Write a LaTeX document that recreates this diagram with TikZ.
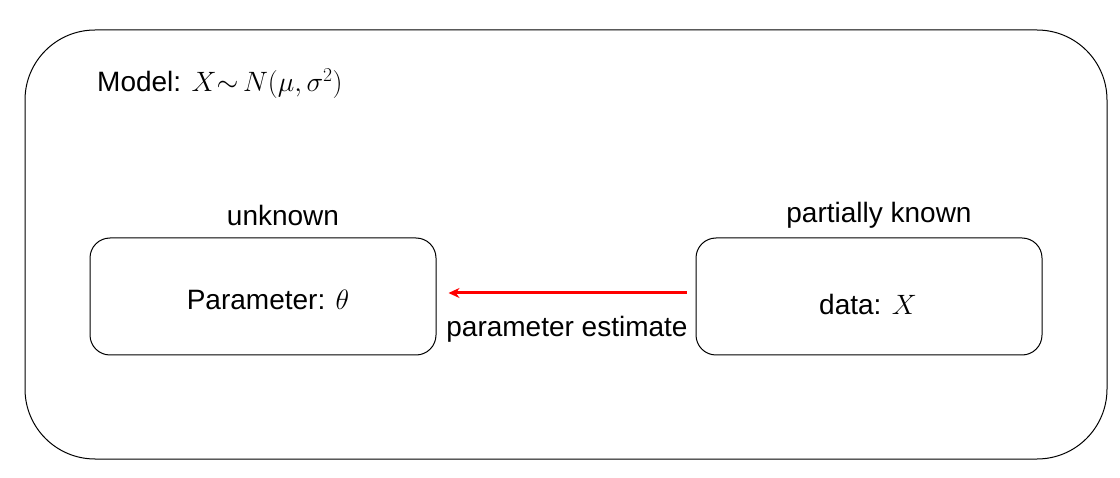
\documentclass[tikz,border=0pt]{standalone}
\usepackage{fix-cm}
\usepackage{fontspec}
\setmainfont{Liberation Sans}
\usetikzlibrary{arrows.meta}
\tikzset{
  box/.style={draw=black, line width=1pt, rounded corners=20pt, minimum width=346pt, minimum height=117pt, inner sep=0pt},
  lbl/.style={font=\fontsize{28}{33}\selectfont, inner sep=0pt},
  est/.style={draw=red, line width=3pt, -{Stealth[length=11pt,width=10pt]}}
}
\begin{document}
\begin{tikzpicture}[x=1pt,y=-1pt]
\useasboundingbox (0,0) rectangle (1120,478);
\node[draw=black, line width=1pt, rounded corners=70pt, minimum width=1082pt, minimum height=429pt, inner sep=0pt] (model) at (566,244.5) {};
\node[lbl, anchor=west] (mtitle) at (97,84) {Model: $X{\sim}\,N(\mu,\sigma^{2})$};
\node[box] (p) at (263,296.5) {};
\node[lbl] (ptext) at (268,300) {Parameter: $\theta$};
\node[box] (d) at (869,296.5) {};
\node[lbl] (dtext) at (868,304) {data: $X$};
\node[lbl] (unk) at (283,215) {unknown};
\node[lbl] (pk) at (879,215) {partially known};
\draw[est] ([xshift=-9pt,yshift=3.5pt]d.west) -- ([xshift=12pt,yshift=3.5pt]p.east);
\node[lbl] (estl) at (567,329) {parameter estimate};
\end{tikzpicture}
\end{document}
